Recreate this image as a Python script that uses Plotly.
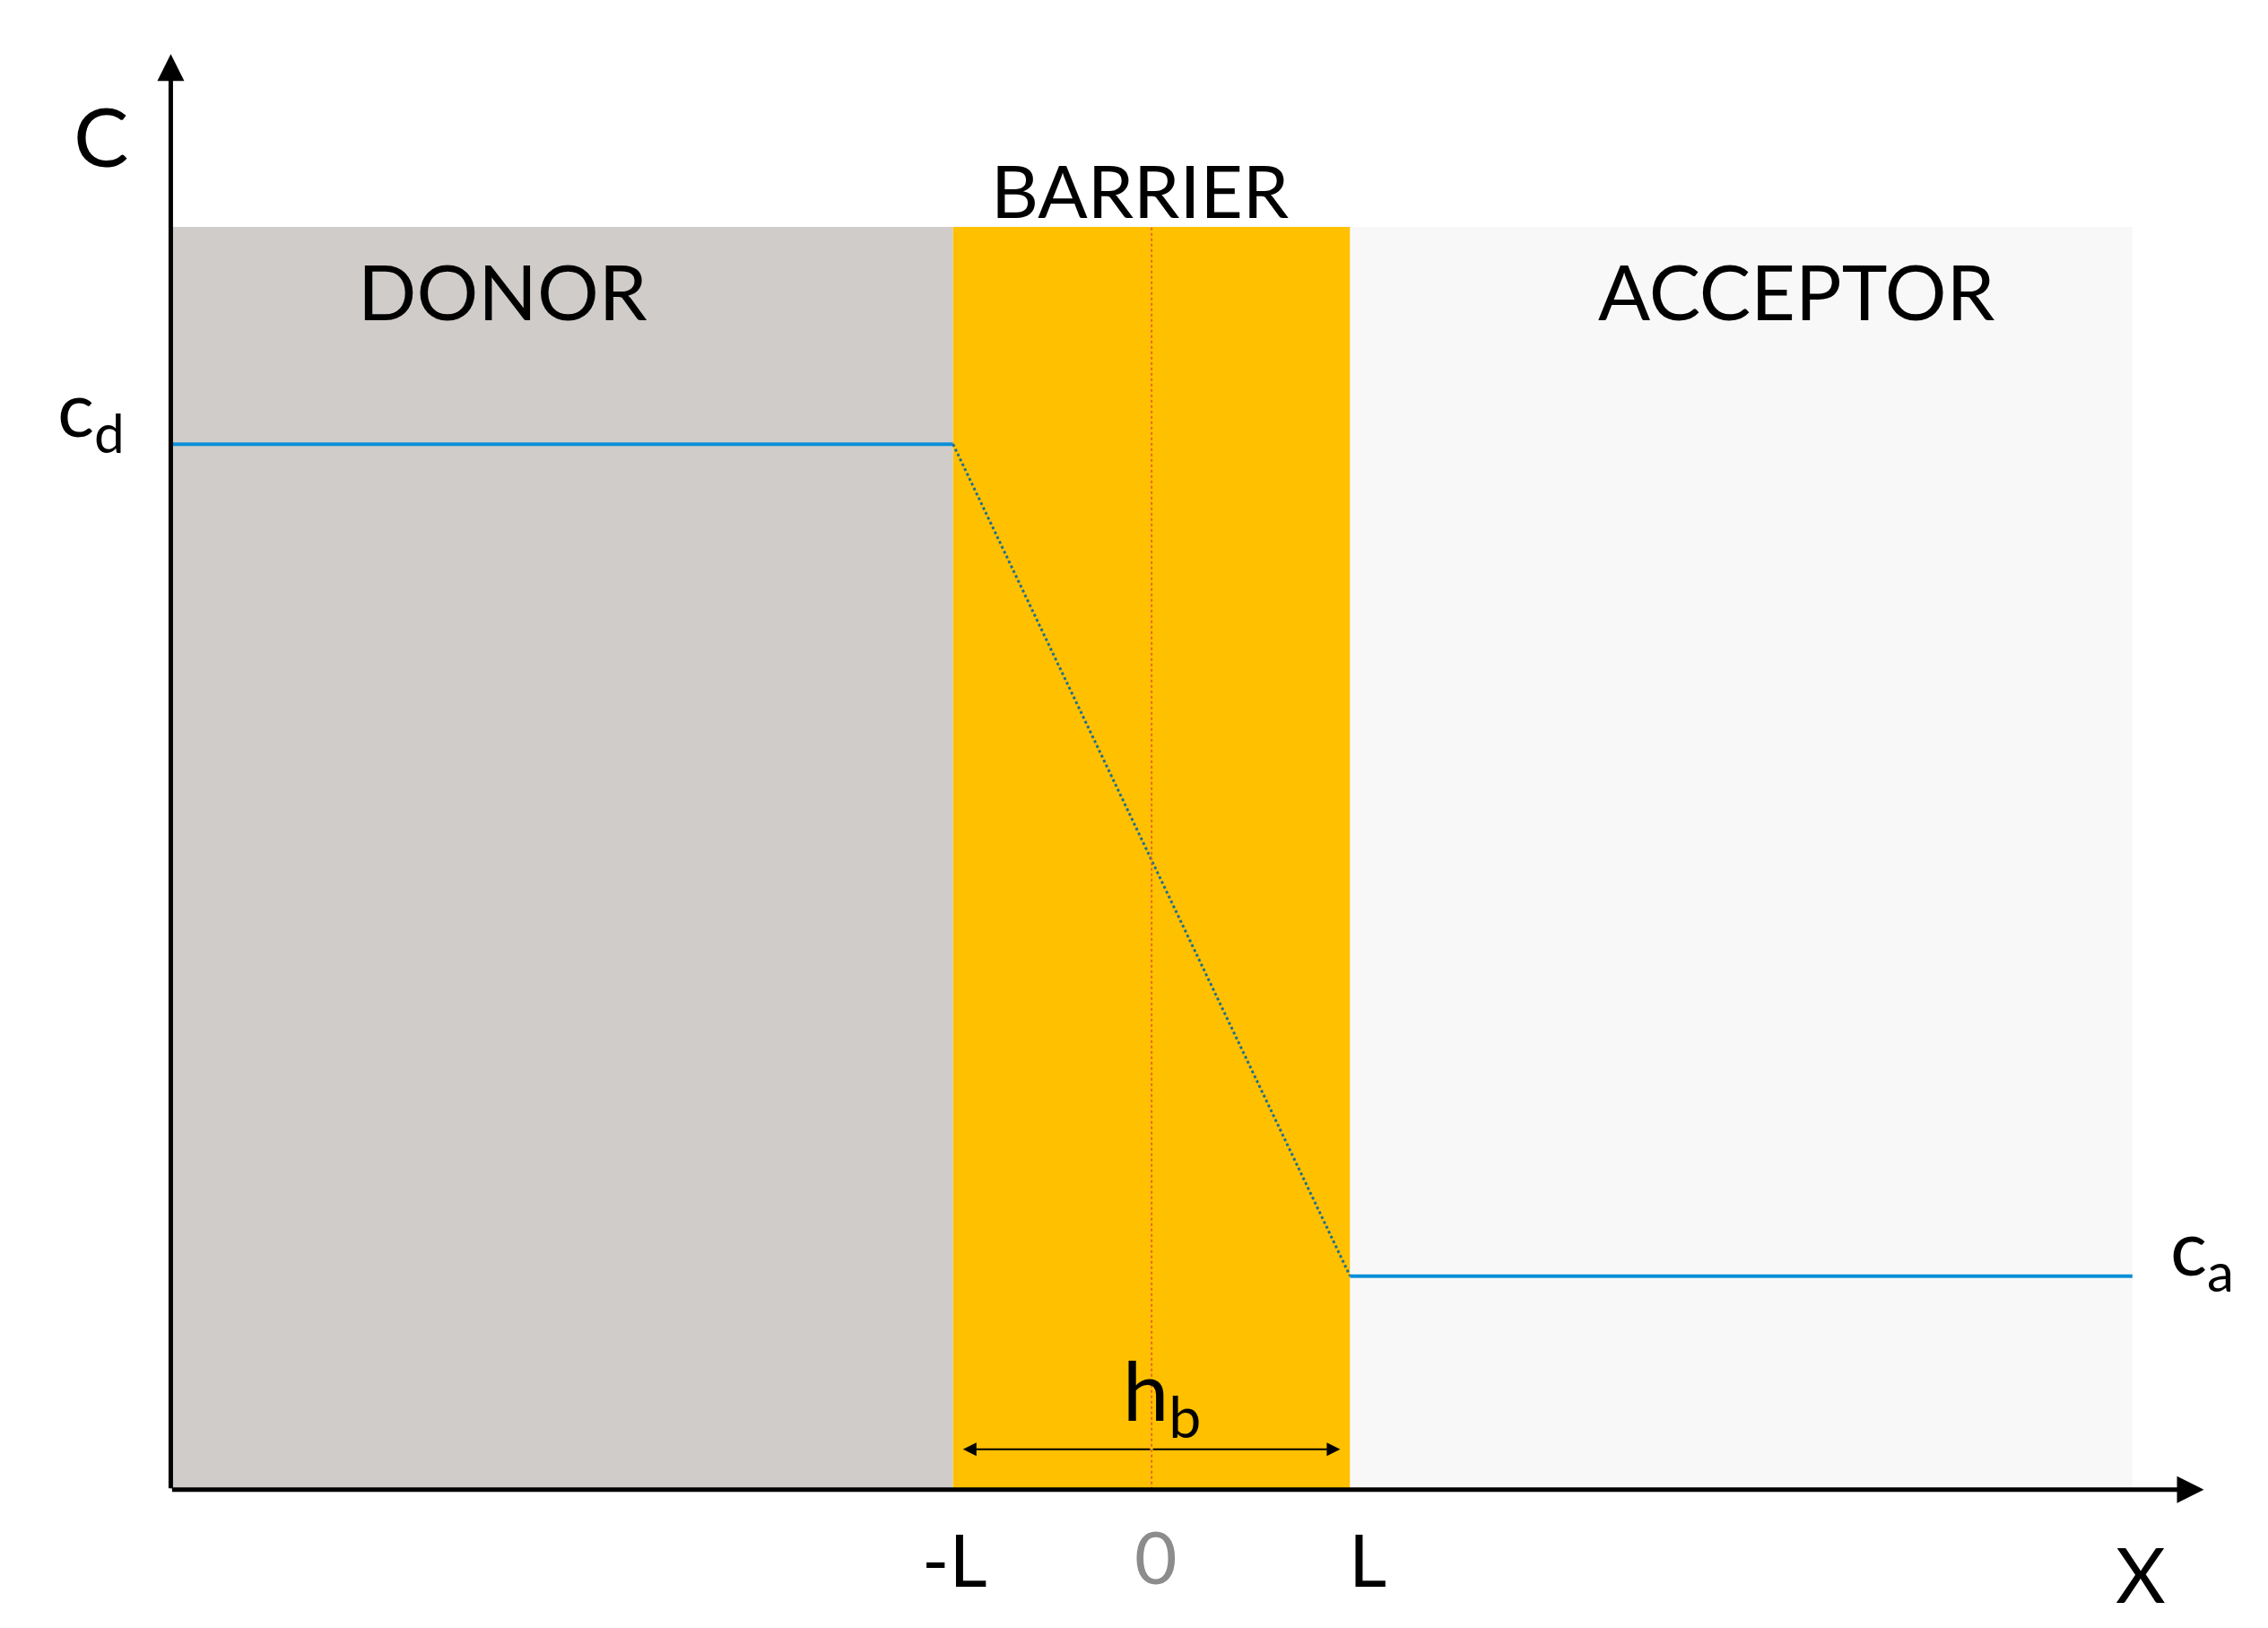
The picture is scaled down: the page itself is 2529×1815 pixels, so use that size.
import plotly.graph_objects as go

# data (L = 1)
x_left, x_right, L = -4.94, 4.94, 1.0
top = 1.0
c_d, c_a = 0.828, 0.169
regions = ["DONOR", "BARRIER", "ACCEPTOR"]
region_x0 = [x_left, -L, L]
region_x1 = [-L, L, x_right]
region_colors = ["#d0ccca", "#ffc000", "#f8f8f8"]
profile_x = [x_left, -L, L, x_right]
profile_y = [c_d, c_d, c_a, c_a]

FONT = "Lato, 'DejaVu Sans', sans-serif"
fig = go.Figure()
for x0, x1, col in zip(region_x0, region_x1, region_colors):
    fig.add_shape(type="rect", x0=x0, x1=x1, y0=0, y1=top, fillcolor=col, line_width=0, layer="below")
fig.add_shape(type="line", x0=0, x1=0, y0=0, y1=top, line=dict(color="#e8662a", width=2, dash="dot"))

fig.add_trace(go.Scatter(x=profile_x[:2], y=profile_y[:2], mode="lines", line=dict(color="#0a8fd8", width=4)))
fig.add_trace(go.Scatter(x=profile_x[1:3], y=profile_y[1:3], mode="lines", line=dict(color="#1f6f8f", width=3, dash="dot")))
fig.add_trace(go.Scatter(x=profile_x[2:], y=profile_y[2:], mode="lines", line=dict(color="#0a8fd8", width=4)))

def arrow(x0, y0, x1, y1, w=5, head=2, size=1.2):
    fig.add_annotation(x=x1, y=y1, ax=x0, ay=y0, xref="x", yref="y", axref="x", ayref="y",
                       showarrow=True, arrowhead=head, arrowsize=size, arrowwidth=w, arrowcolor="black", text="")

arrow(x_left, 0, x_left, 1.137)
arrow(x_left, 0, 5.3, 0)
arrow(0, 0.032, -0.95, 0.032, w=2, size=1.5)
arrow(0, 0.032, 0.95, 0.032, w=2, size=1.5)

def txt(x, y, s, size, color="black"):
    fig.add_annotation(x=x, y=y, xref="x", yref="y", text=s, showarrow=False,
                       font=dict(family=FONT, size=size, color=color))

txt(-5.29, 1.073, "C", 92)
txt(-0.06, 1.03, "BARRIER", 82)
txt(-3.27, 0.95, "DONOR", 86)
txt(3.25, 0.95, "ACCEPTOR", 86)
txt(-5.34, 0.853, "c<sub>d</sub>", 86)
txt(5.29, 0.189, "c<sub>a</sub>", 86)
txt(-0.99, -0.054, "-L", 82)
txt(0.02, -0.052, "0", 82, "#8c8c8c")
txt(1.09, -0.054, "L", 82)
txt(4.98, -0.066, "X", 86)
txt(0.05, 0.075, "h<sub>b</sub>", 92)

fig.update_layout(width=2529, height=1815, margin=dict(l=0, r=0, t=0, b=0),
                  paper_bgcolor="white", plot_bgcolor="white", showlegend=False,
                  xaxis=dict(range=[-5.764, 5.659], visible=False),
                  yaxis=dict(range=[-0.1153, 1.1741], visible=False))
fig.write_html("out.html")
